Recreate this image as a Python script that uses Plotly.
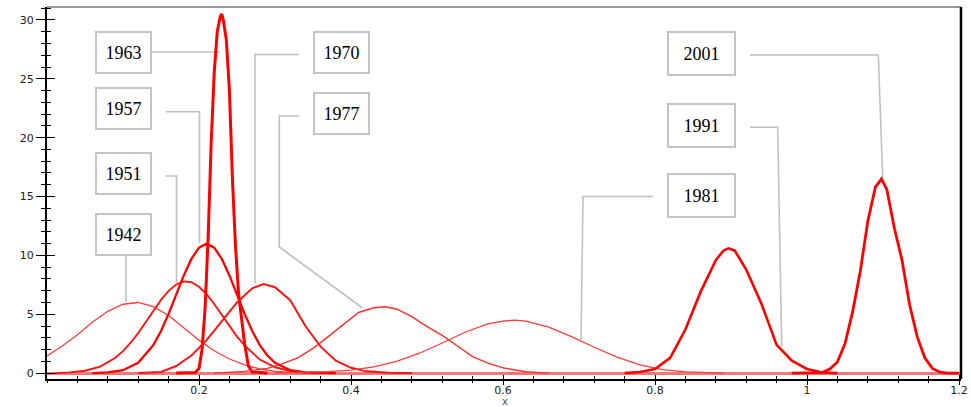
import plotly.graph_objects as go

# ---------------- data ----------------
x_1942 = [0.0, 0.02, 0.04, 0.06, 0.08, 0.10, 0.12, 0.14, 0.16, 0.18, 0.20, 0.22, 0.24, 0.26, 0.28, 0.30, 0.32, 0.34]
y_1942 = [1.45, 2.3, 3.25, 4.35, 5.25, 5.85, 6.0, 5.65, 4.9, 3.85, 2.8, 1.9, 1.2, 0.7, 0.35, 0.15, 0.05, 0.0]

x_1951 = [0.01, 0.03, 0.05, 0.07, 0.09, 0.10, 0.11, 0.12, 0.13, 0.14, 0.15, 0.16, 0.17, 0.18, 0.19, 0.20, 0.21,
          0.22, 0.23, 0.24, 0.25, 0.26, 0.28, 0.30, 0.32, 0.34, 0.37]
y_1951 = [0.0, 0.06, 0.2, 0.55, 1.3, 1.87, 2.58, 3.4, 4.35, 5.3, 6.22, 6.99, 7.53, 7.79, 7.72, 7.34, 6.7,
          5.87, 4.92, 3.97, 3.1, 2.35, 1.15, 0.5, 0.18, 0.05, 0.0]

x_1957 = [0.06, 0.08, 0.10, 0.12, 0.14, 0.15, 0.16, 0.17, 0.18, 0.19, 0.20, 0.21, 0.22, 0.23, 0.24, 0.25,
          0.26, 0.27, 0.28, 0.29, 0.30, 0.32, 0.34, 0.38]
y_1957 = [0.0, 0.06, 0.25, 0.88, 2.38, 3.57, 5.03, 6.67, 8.3, 9.7, 10.66, 11.0, 10.66, 9.7, 8.3, 6.67,
          5.03, 3.57, 2.38, 1.5, 0.88, 0.25, 0.06, 0.0]

x_1963 = [0.17, 0.195, 0.200, 0.204, 0.208, 0.212, 0.216, 0.220, 0.224, 0.228, 0.230, 0.232, 0.236, 0.240,
          0.244, 0.248, 0.252, 0.256, 0.260, 0.265, 0.270, 0.29]
y_1963 = [0.0, 0.05, 0.4, 2.0, 5.5, 11.5, 19.5, 25.5, 29.0, 30.3, 30.5, 30.0, 28.3, 24.0,
          16.5, 10.8, 6.8, 4.5, 2.5, 0.6, 0.1, 0.0]

x_1970 = [0.12, 0.15, 0.17, 0.19, 0.21, 0.23, 0.25, 0.27, 0.285, 0.30, 0.32, 0.34, 0.36, 0.38, 0.40, 0.42, 0.45, 0.48]
y_1970 = [0.0, 0.1, 0.6, 1.5, 2.8, 4.4, 6.0, 7.2, 7.56, 7.3, 6.2, 4.0, 2.25, 1.05, 0.45, 0.15, 0.03, 0.0]

x_1977 = [0.22, 0.26, 0.29, 0.31, 0.33, 0.35, 0.37, 0.39, 0.41, 0.43, 0.445, 0.46, 0.48, 0.50, 0.52, 0.54,
          0.56, 0.58, 0.60, 0.63, 0.66]
y_1977 = [0.0, 0.15, 0.4, 0.8, 1.3, 2.1, 3.1, 4.1, 5.15, 5.55, 5.64, 5.45, 4.8, 3.95, 3.2, 2.3,
          1.4, 0.85, 0.45, 0.12, 0.0]

x_1981 = [0.30, 0.34, 0.37, 0.40, 0.43, 0.46, 0.49, 0.52, 0.55, 0.58, 0.60, 0.615, 0.63, 0.66, 0.69, 0.72,
          0.75, 0.78, 0.81, 0.84, 0.89]
y_1981 = [0.0, 0.05, 0.12, 0.25, 0.53, 0.99, 1.69, 2.56, 3.47, 4.18, 4.42, 4.5, 4.42, 3.9, 3.1, 2.2,
          1.35, 0.7, 0.3, 0.1, 0.0]

x_1991 = [0.76, 0.78, 0.80, 0.82, 0.84, 0.86, 0.88, 0.89, 0.8965, 0.905, 0.92, 0.94, 0.96, 0.98, 1.00, 1.02, 1.04]
y_1991 = [0.0, 0.1, 0.35, 1.3, 3.7, 6.9, 9.6, 10.4, 10.6, 10.4, 8.8, 5.9, 2.4, 1.05, 0.35, 0.05, 0.0]

x_2001 = [0.98, 1.02, 1.03, 1.04, 1.05, 1.06, 1.07, 1.08, 1.09, 1.098, 1.105, 1.115, 1.125, 1.135, 1.145,
          1.155, 1.165, 1.175, 1.185, 1.2]
y_2001 = [0.0, 0.05, 0.35, 0.95, 2.5, 5.2, 8.6, 12.9, 15.8, 16.5, 15.6, 12.3, 9.6, 5.8, 3.1,
          1.3, 0.4, 0.08, 0.0, 0.0]

years = ["1942", "1951", "1957", "1963", "1970", "1977", "1981", "1991", "2001"]
xs = [x_1942, x_1951, x_1957, x_1963, x_1970, x_1977, x_1981, x_1991, x_2001]
ys = [y_1942, y_1951, y_1957, y_1963, y_1970, y_1977, y_1981, y_1991, y_2001]

x_ticks = [0.2, 0.4, 0.6, 0.8, 1.0, 1.2]
x_tick_text = ["0.2", "0.4", "0.6", "0.8", "1", "1.2"]
y_ticks = [0, 5, 10, 15, 20, 25, 30]

# ---------------- styling ----------------
widths = {"1942": 1.3, "1951": 1.9, "1957": 2.3, "1963": 3.0, "1970": 2.0,
          "1977": 1.4, "1981": 1.3, "1991": 2.6, "2001": 2.8}
colors = {"1942": "rgb(255,60,60)", "1951": "rgb(255,20,20)", "1957": "rgb(255,0,0)",
          "1963": "rgb(255,0,0)", "1970": "rgb(255,20,20)", "1977": "rgb(255,45,45)",
          "1981": "rgb(255,60,60)", "1991": "rgb(255,0,0)", "2001": "rgb(255,0,0)"}

W, H = 971, 407
L, R, T, B = 47, 10, 7, 28
XR = [0.0, (W - L - R) / 760.0]
YR = [-0.5, 31.1]


def P(px, py):
    """pixel position -> data coordinates (for label boxes / leader lines)"""
    pw, ph = W - L - R, H - T - B
    x = XR[0] + (px - L) / pw * (XR[1] - XR[0])
    y = YR[0] + (H - B - py) / ph * (YR[1] - YR[0])
    return x, y


boxes = {  # label -> (centre px, size px)
    "1963": ((123.3, 52.0), (55, 41)),
    "1957": ((123.3, 108.8), (55, 41)),
    "1951": ((123.3, 173.7), (55, 41)),
    "1942": ((123.5, 234.2), (55, 41)),
    "1970": ((341.0, 52.0), (55, 41)),
    "1977": ((341.0, 113.0), (55, 41)),
    "2001": ((701.0, 53.5), (67, 43)),
    "1991": ((701.0, 125.7), (67, 43)),
    "1981": ((701.0, 195.2), (67, 43)),
}
leaders = {
    "1963": [(151, 52), (220, 52)],
    "1957": [(166, 111.7), (199.5, 111.7), (199.5, 243)],
    "1951": [(166, 176), (176.5, 176), (176.5, 283)],
    "1942": [(126, 255), (126, 302)],
    "1970": [(299, 54.5), (255, 54.5), (255, 283)],
    "1977": [(299, 116), (279.3, 116), (279.3, 247), (362.5, 308)],
    "2001": [(750, 55), (878.3, 55), (882.7, 178)],
    "1991": [(750, 127.3), (777.7, 127.3), (781.7, 346.5)],
    "1981": [(653, 196.5), (583, 196.5), (581, 340)],
}

fig = go.Figure()

for name, pts in leaders.items():
    cx, cy = zip(*[P(a, b) for a, b in pts])
    fig.add_trace(go.Scatter(x=list(cx), y=list(cy), mode="lines", hoverinfo="skip",
                             line=dict(color="#c0c0c0", width=1.6), showlegend=False))

for name, xv, yv in zip(years, xs, ys):
    fig.add_trace(go.Scatter(x=xv, y=yv, mode="lines", name=name, showlegend=False,
                             line=dict(color=colors[name], width=widths[name])))

annotations = []
for name, ((cx, cy), (bw, bh)) in boxes.items():
    ax, ay = P(cx, cy)
    annotations.append(dict(x=ax, y=ay, xref="x", yref="y", text=name, showarrow=False,
                            font=dict(family="Liberation Serif, Times New Roman, serif", size=18, color="black"),
                            bgcolor="white", bordercolor="#c4c4c4", borderwidth=2, borderpad=0,
                            width=bw - 2, height=bh - 2, xanchor="center", yanchor="middle"))
# axis title "x"
annotations.append(dict(x=(505 - L) / (W - L - R), y=-(401.5 - (H - B)) / (H - T - B), xref="paper", yref="paper",
                        text="x", showarrow=False, xanchor="center", yanchor="middle",
                        font=dict(family="DejaVu Sans, Arial, sans-serif", size=10, color="#555555")))

tickfont = dict(family="DejaVu Sans, Arial, sans-serif", size=11, color="#222222")

fig.update_layout(
    width=W, height=H, margin=dict(l=L, r=R, t=T, b=B, autoexpand=False),
    paper_bgcolor="white", plot_bgcolor="white",
    annotations=annotations,
    # main x axis: inside ticks (labels sit close to the line); overlay axis adds the outside part
    xaxis=dict(range=XR, automargin=False, showgrid=False, zeroline=False, showline=True, linecolor="black",
               linewidth=2, ticks="inside", ticklen=4, tickcolor="black", tickwidth=1.2,
               tickvals=x_ticks, ticktext=x_tick_text, tickfont=tickfont,
               minor=dict(tick0=0, dtick=0.04, ticks="inside", ticklen=3, tickcolor="black", tickwidth=1)),
    yaxis=dict(range=YR, automargin=False, showgrid=False, zeroline=True, zerolinecolor="#f47878",
               zerolinewidth=2.5, showline=True, linecolor="black", linewidth=2,
               ticks="outside", ticklen=9, tickcolor="black", tickwidth=1.2,
               tickvals=y_ticks, tickfont=tickfont,
               minor=dict(tick0=0, dtick=1, ticks="outside", ticklen=4, tickcolor="black", tickwidth=1)),
    xaxis2=dict(range=XR, automargin=False, overlaying="x", anchor="y", side="bottom", showgrid=False,
                zeroline=False, showline=False, showticklabels=False, ticks="outside", ticklen=5,
                tickcolor="black", tickwidth=1.2, tickvals=x_ticks,
                minor=dict(tick0=0, dtick=0.04, ticks="outside", ticklen=3, tickcolor="black", tickwidth=1)),
    yaxis2=dict(range=YR, automargin=False, overlaying="y", anchor="x", side="left", showgrid=False,
                zeroline=False, showline=False, showticklabels=False, ticks="inside", ticklen=8,
                tickcolor="black", tickwidth=1.2, tickvals=y_ticks,
                minor=dict(tick0=0, dtick=1, ticks="inside", ticklen=4, tickcolor="black", tickwidth=1)),
    shapes=[
        dict(type="line", xref="paper", yref="paper", x0=0, x1=1, y0=1, y1=1,
             line=dict(color="#777777", width=1.5)),
        dict(type="line", xref="paper", yref="paper", x0=1, x1=1, y0=0, y1=1,
             line=dict(color="black", width=2.5)),
    ],
)
# invisible trace so the overlay axes render
fig.add_trace(go.Scatter(x=[XR[0]], y=[YR[0]], xaxis="x2", yaxis="y2", mode="markers",
                         marker=dict(opacity=0), hoverinfo="skip", showlegend=False))

fig.write_html("out.html", config={"displayModeBar": False},
               post_script="document.body.style.margin='0px';document.body.style.overflow='hidden';")
